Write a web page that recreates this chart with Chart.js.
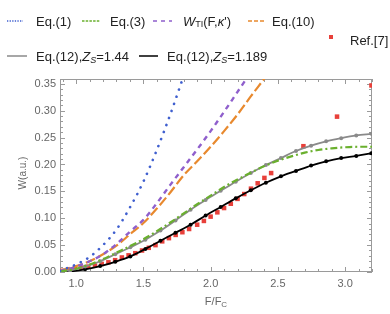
<!DOCTYPE html>
<html>
<head>
<meta charset="utf-8">
<script src="https://cdn.jsdelivr.net/npm/chart.js@4"></script>
<style>
  html, body { margin: 0; padding: 0; background: #fff; }
</style>
</head>
<body>
<canvas id="chart" width="390" height="314"></canvas>
<script>
// tick labels
const xTicks = [1.0, 1.5, 2.0, 2.5, 3.0];
const yTicks = [0, 0.05, 0.10, 0.15, 0.20, 0.25, 0.30, 0.35];

// Eq.(1)
const eq1X = [0.88, 0.95, 1.0, 1.1, 1.2, 1.3, 1.4, 1.5, 1.6, 1.7, 1.8];
const eq1Y = [0.002, 0.009, 0.014, 0.028, 0.050, 0.079, 0.120, 0.168, 0.227, 0.293, 0.365];

// Eq.(3)
const eq3X = [0.88, 1.0, 1.1, 1.2, 1.3, 1.4, 1.5, 1.6, 1.7, 1.8, 1.9, 2.0, 2.1, 2.2, 2.3, 2.4, 2.5, 2.6, 2.7, 2.8, 2.9, 3.0, 3.1, 3.2];
const eq3Y = [0.001, 0.006, 0.014, 0.024, 0.036, 0.048, 0.061, 0.076, 0.092, 0.109, 0.126, 0.142, 0.158, 0.172, 0.185, 0.197, 0.207, 0.215, 0.222, 0.227, 0.230, 0.232, 0.233, 0.233];

// W_TI(F, kappa')
const wtiX = [0.88, 1.0, 1.1, 1.2, 1.3, 1.4, 1.5, 1.6, 1.7, 1.8, 1.9, 2.0, 2.1, 2.2, 2.3];
const wtiY = [0.002, 0.010, 0.020, 0.033, 0.052, 0.075, 0.097, 0.128, 0.162, 0.195, 0.228, 0.262, 0.298, 0.335, 0.372];

// Eq.(10)
const eq10X = [0.88, 1.0, 1.1, 1.2, 1.3, 1.4, 1.5, 1.6, 1.7, 1.8, 1.9, 2.0, 2.1, 2.2, 2.3, 2.4, 2.45];
const eq10Y = [0.003, 0.011, 0.020, 0.033, 0.049, 0.070, 0.091, 0.118, 0.148, 0.180, 0.206, 0.233, 0.262, 0.293, 0.327, 0.360, 0.377];

// Eq.(12) curves, sampled at the marker positions
const eq12X = [0.88, 0.955, 1.067, 1.179, 1.291, 1.403, 1.515, 1.627, 1.739, 1.851, 1.963, 2.075, 2.187, 2.299, 2.411, 2.523, 2.635, 2.747, 2.859, 2.971, 3.083, 3.195];
const zs144Y = [0.001, 0.003, 0.010, 0.020, 0.033, 0.046, 0.060, 0.077, 0.096, 0.116, 0.134, 0.151, 0.168, 0.184, 0.199, 0.212, 0.225, 0.235, 0.243, 0.249, 0.254, 0.257];
const zs1189Y = [0.000, 0.001, 0.005, 0.011, 0.019, 0.029, 0.043, 0.058, 0.073, 0.088, 0.105, 0.121, 0.137, 0.152, 0.166, 0.178, 0.188, 0.198, 0.206, 0.212, 0.216, 0.221];

// Ref.[7]
const refX = [0.89, 0.94, 0.99, 1.04, 1.09, 1.14, 1.19, 1.24, 1.29, 1.34, 1.39, 1.44, 1.49, 1.54, 1.59, 1.64, 1.69, 1.74, 1.79, 1.84, 1.90, 1.95, 2.00, 2.05, 2.10, 2.15, 2.20, 2.25, 2.30, 2.35, 2.40, 2.45, 2.69, 2.94, 3.196];
const refY = [0.002, 0.004, 0.006, 0.008, 0.010, 0.012, 0.015, 0.018, 0.022, 0.027, 0.031, 0.035, 0.040, 0.045, 0.050, 0.057, 0.063, 0.069, 0.074, 0.080, 0.088, 0.095, 0.103, 0.111, 0.119, 0.127, 0.136, 0.145, 0.155, 0.165, 0.175, 0.184, 0.234, 0.289, 0.347];

const pts = (xs, ys) => xs.map((x, i) => ({ x: x, y: ys[i] }));

const FONT = '"Liberation Sans", Arial, sans-serif';
const BLUE = "#3f5fcf", GREEN = "#6ab02e", PURPLE = "#8f5fcc", ORANGE = "#e8892e";
const GRAY = "#8a8a8a", RED = "#e8403a";

function richText(ctx, x, y, parts) {
  parts.forEach(p => {
    ctx.font = (p.italic ? "italic " : "") + (p.size || 13) + "px " + FONT;
    ctx.fillText(p.t, x, y + (p.dy || 0));
    x += ctx.measureText(p.t).width;
  });
}

function sample(ctx, x1, x2, y, color, dash, width) {
  ctx.save();
  ctx.strokeStyle = color;
  ctx.lineWidth = width;
  ctx.setLineDash(dash);
  ctx.beginPath();
  ctx.moveTo(x1, y);
  ctx.lineTo(x2, y);
  ctx.stroke();
  ctx.restore();
}

const decor = {
  id: "decor",
  beforeDatasetsDraw(chart) {
    const { ctx, chartArea: a, scales } = chart;
    const xs = scales.x, ys = scales.y;
    ctx.save();
    ctx.strokeStyle = "#9a9a9a";
    ctx.lineWidth = 1;
    ctx.strokeRect(a.left + 0.5, a.top + 0.5, a.right - a.left - 1, a.bottom - a.top - 1);
    ctx.beginPath();
    for (let i = 9; i <= 32; i++) {
      const v = i / 10;
      const px = Math.round(xs.getPixelForValue(v)) + 0.5;
      const len = i % 5 === 0 ? 5 : 3;
      ctx.moveTo(px, a.bottom); ctx.lineTo(px, a.bottom - len);
      ctx.moveTo(px, a.top); ctx.lineTo(px, a.top + len);
    }
    for (let i = 0; i <= 35; i++) {
      const v = i / 100;
      const py = Math.round(ys.getPixelForValue(v)) + 0.5;
      const len = i % 5 === 0 ? 5 : 3;
      ctx.moveTo(a.left, py); ctx.lineTo(a.left + len, py);
      ctx.moveTo(a.right, py); ctx.lineTo(a.right - len, py);
    }
    ctx.stroke();
    ctx.restore();
  },
  afterDraw(chart) {
    const ctx = chart.ctx;
    ctx.save();
    ctx.textBaseline = "middle";
    ctx.fillStyle = "#222";
    // row 1
    sample(ctx, 7, 23, 21, BLUE, [1.3, 1.3], 1.5);
    richText(ctx, 36, 22, [{ t: "Eq.(1)" }]);
    sample(ctx, 82, 100, 21, GREEN, [2.5, 1.2], 1.5);
    richText(ctx, 110, 22, [{ t: "Eq.(3)" }]);
    sample(ctx, 153, 172, 21, PURPLE, [4, 4], 1.5);
    richText(ctx, 183, 22, [
      { t: "W", italic: true },
      { t: "TI", size: 9, dy: 3 },
      { t: "(F," },
      { t: "\u03ba", italic: true },
      { t: "')" }
    ]);
    sample(ctx, 248, 264, 21, ORANGE, [4, 2], 1.5);
    richText(ctx, 272, 22, [{ t: "Eq.(10)" }]);
    // Ref.[7]
    ctx.fillStyle = RED;
    ctx.fillRect(329, 35, 4, 4);
    ctx.fillStyle = "#222";
    richText(ctx, 350, 41, [{ t: "Ref.[7]" }]);
    // row 2
    sample(ctx, 7, 27, 56, GRAY, [], 1.5);
    richText(ctx, 36, 57, [
      { t: "Eq.(12)," },
      { t: "Z", italic: true },
      { t: "S", italic: true, size: 9, dy: 3 },
      { t: "=1.44" }
    ]);
    sample(ctx, 139, 158, 56, "#000", [], 1.5);
    richText(ctx, 167, 57, [
      { t: "Eq.(12)," },
      { t: "Z", italic: true },
      { t: "S", italic: true, size: 9, dy: 3 },
      { t: "=1.189" }
    ]);
    // axis titles
    ctx.fillStyle = "#666";
    ctx.textAlign = "left";
    ctx.font = "11px " + FONT;
    const w1 = ctx.measureText("F/F").width;
    ctx.font = "8px " + FONT;
    const w2 = ctx.measureText("C").width;
    richText(ctx, 216 - (w1 + w2) / 2, 302, [{ t: "F/F", size: 11 }, { t: "C", size: 8, dy: 3 }]);
    ctx.translate(23, 173);
    ctx.rotate(-Math.PI / 2);
    ctx.textAlign = "center";
    ctx.font = "10px " + FONT;
    ctx.fillText("W(a.u.)", 0, 0);
    ctx.restore();
  }
};

const smooth = { showLine: true, fill: false, cubicInterpolationMode: "monotone", pointRadius: 0 };

new Chart(document.getElementById("chart").getContext("2d"), {
  type: "scatter",
  data: {
    datasets: [
      { ...smooth, label: "Eq.(1)", data: pts(eq1X, eq1Y), borderColor: BLUE, borderWidth: 2.6, borderDash: [0.1, 7.4], borderCapStyle: "round" },
      { ...smooth, label: "Eq.(3)", data: pts(eq3X, eq3Y), borderColor: GREEN, borderWidth: 2.2, borderDash: [7, 3, 2, 3] },
      { ...smooth, label: "W_TI(F,κ')", data: pts(wtiX, wtiY), borderColor: PURPLE, borderWidth: 2.4, borderDash: [5, 4.5] },
      { ...smooth, label: "Eq.(10)", data: pts(eq10X, eq10Y), borderColor: ORANGE, borderWidth: 2.2, borderDash: [10, 3.5] },
      { ...smooth, label: "Eq.(12),Zs=1.44", data: pts(eq12X, zs144Y), borderColor: GRAY, borderWidth: 1.8,
        pointRadius: c => (c.dataIndex === 0 ? 0 : 2), pointBackgroundColor: GRAY, pointBorderWidth: 0 },
      { ...smooth, label: "Eq.(12),Zs=1.189", data: pts(eq12X, zs1189Y), borderColor: "#000", borderWidth: 1.8,
        pointRadius: c => (c.dataIndex === 0 ? 0 : 2), pointBackgroundColor: "#000", pointBorderWidth: 0 },
      { label: "Ref.[7]", data: pts(refX, refY), showLine: false, pointStyle: "rect", pointRadius: 3.2,
        pointBackgroundColor: RED, pointBorderWidth: 0 }
    ]
  },
  options: {
    responsive: false,
    animation: false,
    layout: { padding: { top: 79, right: 18, left: 0, bottom: 0 } },
    plugins: { legend: { display: false }, tooltip: { enabled: false } },
    scales: {
      x: {
        type: "linear", min: 0.88, max: 3.2,
        afterBuildTicks: s => { s.ticks = xTicks.map(v => ({ value: v })); },
        afterFit: s => { s.height = 42; },
        grid: { display: false, drawTicks: false }, border: { display: false },
        ticks: { callback: v => v.toFixed(1), color: "#666", font: { family: FONT, size: 11 }, padding: 5, maxRotation: 0 }
      },
      y: {
        type: "linear", min: 0, max: 0.359,
        afterBuildTicks: s => { s.ticks = yTicks.map(v => ({ value: v })); },
        afterFit: s => { s.width = 60; },
        grid: { display: false, drawTicks: false }, border: { display: false },
        ticks: { callback: v => v.toFixed(2), color: "#666", font: { family: FONT, size: 11 }, padding: 4 }
      }
    }
  },
  plugins: [decor]
});
</script>
</body>
</html>
